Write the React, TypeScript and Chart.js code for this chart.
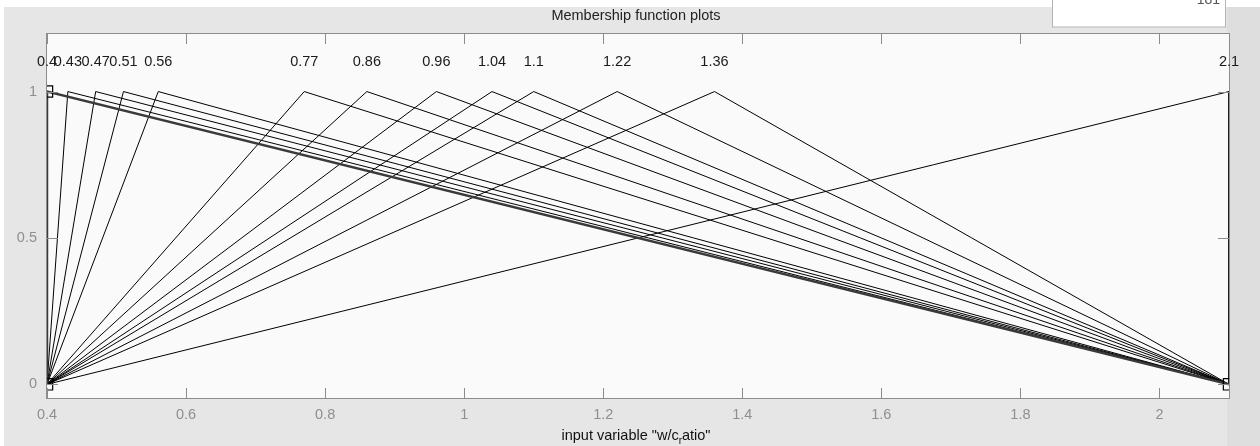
import React, { useEffect, useRef } from "react";
import { Chart, registerables } from "chart.js";

Chart.register(...registerables);

// ---- data ----
const mfStart = 0.4;
const mfEnd = 2.1;
const mfPeaks = [0.4, 0.43, 0.47, 0.51, 0.56, 0.77, 0.86, 0.96, 1.04, 1.1, 1.22, 1.36, 2.1];
const peakLabels = ["0.4", "0.43", "0.47", "0.51", "0.56", "0.77", "0.86", "0.96", "1.04", "1.1", "1.22", "1.36", "2.1"];
const selectedIndex = 0;
const xTickValues = [0.4, 0.6, 0.8, 1, 1.2, 1.4, 1.6, 1.8, 2];
const yTickValues = [0, 0.5, 1];
const xRange = [0.4, 2.1];
const yRange = [-0.05, 1.2];
const labelLevel = 1.1;
const titleText = "Membership function plots";
const boxText = "181";

const FONT = '"Liberation Sans", Arial, sans-serif';

const decorPlugin = {
  id: "decor",
  beforeDraw(chart: any) {
    const { ctx, width, height, chartArea } = chart;
    ctx.save();
    ctx.fillStyle = "#ffffff";
    ctx.fillRect(0, 0, width, height);
    ctx.fillStyle = "#e6e6e6";
    ctx.fillRect(4, 7, width - 4, height - 7);
    ctx.fillStyle = "#dedede";
    ctx.fillRect(1227, 7, width - 1227, height - 7);
    // white box top right
    ctx.fillStyle = "#ffffff";
    ctx.fillRect(1052, 0, 174, 27);
    ctx.strokeStyle = "#b4b4b4";
    ctx.lineWidth = 1;
    ctx.strokeRect(1052.5, -1, 173, 28);
    ctx.fillStyle = "#555";
    ctx.font = `14px ${FONT}`;
    ctx.textAlign = "right";
    ctx.textBaseline = "alphabetic";
    ctx.fillText(boxText, 1220, 4);
    // title
    ctx.fillStyle = "#222";
    ctx.textAlign = "center";
    ctx.textBaseline = "middle";
    ctx.font = `14.5px ${FONT}`;
    ctx.fillText(titleText, 636, 16);
    // plot background
    ctx.fillStyle = "#fafafa";
    ctx.fillRect(chartArea.left, chartArea.top, chartArea.right - chartArea.left, chartArea.bottom - chartArea.top);
    ctx.restore();
  },
  afterDatasetsDraw(chart: any) {
    const { ctx, chartArea } = chart;
    const xs = chart.scales.x;
    const ys = chart.scales.y;
    const { left, right, top, bottom } = chartArea;
    ctx.save();
    ctx.strokeStyle = "#8c8c8c";
    ctx.lineWidth = 1;
    ctx.strokeRect(Math.round(left) - 0.5, Math.round(top) + 0.5, Math.round(right - left) + 1, Math.round(bottom - top) - 1);
    const tl = 11;
    ctx.beginPath();
    xTickValues.forEach((v) => {
      const px = Math.round(xs.getPixelForValue(v)) + 0.5;
      ctx.moveTo(px, bottom);
      ctx.lineTo(px, bottom - tl);
      ctx.moveTo(px, top);
      ctx.lineTo(px, top + tl);
    });
    yTickValues.forEach((v) => {
      const py = Math.round(ys.getPixelForValue(v)) + 0.5;
      ctx.moveTo(left, py);
      ctx.lineTo(left + tl, py);
      ctx.moveTo(right, py);
      ctx.lineTo(right - tl, py);
    });
    ctx.stroke();
    // peak labels
    ctx.fillStyle = "#1a1a1a";
    ctx.font = `14.5px ${FONT}`;
    ctx.textAlign = "center";
    ctx.textBaseline = "middle";
    const ly = ys.getPixelForValue(labelLevel);
    mfPeaks.forEach((p, i) => {
      ctx.fillText(peakLabels[i], xs.getPixelForValue(p), ly);
    });
    // x axis title with subscript
    const part1 = 'input variable "w/c';
    const sub = "r";
    const part2 = 'atio"';
    ctx.textAlign = "left";
    ctx.textBaseline = "alphabetic";
    ctx.font = `14.5px ${FONT}`;
    const w1 = ctx.measureText(part1).width;
    const w3 = ctx.measureText(part2).width;
    ctx.font = `10px ${FONT}`;
    const w2 = ctx.measureText(sub).width;
    const total = w1 + w2 + w3;
    const x0 = 636 - total / 2;
    const base = 440;
    ctx.fillStyle = "#111";
    ctx.font = `14.5px ${FONT}`;
    ctx.fillText(part1, x0, base);
    ctx.font = `10px ${FONT}`;
    ctx.fillText(sub, x0 + w1, base + 4);
    ctx.font = `14.5px ${FONT}`;
    ctx.fillText(part2, x0 + w1 + w2, base);
    ctx.restore();
  },
};

export default function App() {
  const canvasRef = useRef<HTMLCanvasElement | null>(null);

  useEffect(() => {
    if (!canvasRef.current) return;
    const datasets = mfPeaks.map((peak, i) => {
      const selected = i === selectedIndex;
      return {
        label: peakLabels[i],
        data: [
          { x: mfStart, y: 0 },
          { x: peak, y: 1 },
          { x: mfEnd, y: 0 },
        ],
        showLine: true,
        borderColor: selected ? "#3a3a3a" : "#000000",
        borderWidth: selected ? 2.5 : 1,
        pointRadius: selected ? 8 : 0,
        pointStyle: "rect",
        pointBackgroundColor: "rgba(0,0,0,0)",
        pointBorderColor: "#000000",
        pointBorderWidth: 1.2,
        tension: 0,
        clip: 0,
        order: selected ? 0 : 1,
      };
    });

    const chart = new Chart(canvasRef.current, {
      type: "scatter",
      data: { datasets: datasets as any },
      options: {
        responsive: false,
        animation: false,
        layout: { padding: { top: 33, right: 31, left: 0, bottom: 0 } },
        plugins: {
          legend: { display: false },
          tooltip: { enabled: false },
          title: { display: false },
        },
        scales: {
          x: {
            type: "linear",
            min: xRange[0],
            max: xRange[1],
            grid: { display: false, drawTicks: false },
            border: { display: false },
            afterBuildTicks: (scale: any) => {
              scale.ticks = xTickValues.map((v) => ({ value: v }));
            },
            afterFit: (scale: any) => {
              scale.height = 47;
            },
            ticks: {
              color: "#8f8f8f",
              font: { family: FONT, size: 14.5 },
              padding: 7,
              maxRotation: 0,
              autoSkip: false,
              callback: (v: any) => String(Math.round(Number(v) * 10) / 10),
            },
          },
          y: {
            type: "linear",
            min: yRange[0],
            max: yRange[1],
            grid: { display: false, drawTicks: false },
            border: { display: false },
            afterBuildTicks: (scale: any) => {
              scale.ticks = yTickValues.map((v) => ({ value: v }));
            },
            afterFit: (scale: any) => {
              scale.width = 47;
            },
            ticks: {
              color: "#8f8f8f",
              font: { family: FONT, size: 14.5 },
              padding: 10,
              autoSkip: false,
              callback: (v: any) => String(v),
            },
          },
        },
      },
      plugins: [decorPlugin],
    });
    return () => chart.destroy();
  }, []);

  return (
    <div style={{ position: "fixed", left: 0, top: 0, width: 1260, height: 446, background: "#e6e6e6" }}>
      <canvas ref={canvasRef} width={1260} height={446} style={{ display: "block", width: 1260, height: 446 }} />
    </div>
  );
}
